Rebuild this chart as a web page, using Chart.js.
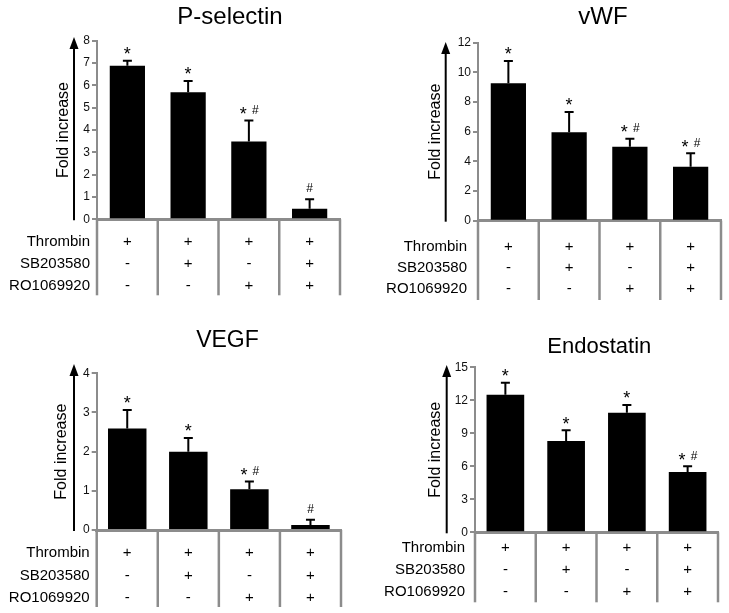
<!DOCTYPE html>
<html><head><meta charset="utf-8">
<script src="https://cdn.jsdelivr.net/npm/chart.js@4/dist/chart.umd.min.js"></script>
<style>
html,body{margin:0;padding:0;background:#fff;width:729px;height:613px;overflow:hidden}
.p{position:absolute}
canvas{display:block}
</style></head><body>
<div class="p" style="left:0;top:0"><canvas id="c0" width="365" height="300"></canvas></div>
<div class="p" style="left:365px;top:0"><canvas id="c1" width="364" height="300"></canvas></div>
<div class="p" style="left:0;top:300px"><canvas id="c2" width="365" height="313"></canvas></div>
<div class="p" style="left:365px;top:300px"><canvas id="c3" width="364" height="313"></canvas></div>
<script>
// ---------- data ----------
const categories = ['Thrombin', 'Thrombin + SB203580', 'Thrombin + RO1069920', 'Thrombin + SB203580 + RO1069920'];
const treatmentRows = ['Thrombin', 'SB203580', 'RO1069920'];
const thrombinSigns = ['+', '+', '+', '+'];
const sb203580Signs = ['-', '+', '-', '+'];
const ro1069920Signs = ['-', '-', '+', '+'];
const yAxisTitle = 'Fold increase';

const pSelectinMean = [6.88, 5.69, 3.48, 0.47];
const pSelectinErr = [0.22, 0.50, 0.94, 0.43];
const pSelectinMarks = ['*', '*', '* #', '#'];

const vwfMean = [9.26, 5.96, 4.99, 3.64];
const vwfErr = [1.51, 1.37, 0.54, 0.90];
const vwfMarks = ['*', '*', '* #', '* #'];

const vegfMean = [2.59, 2.00, 1.04, 0.13];
const vegfErr = [0.47, 0.35, 0.20, 0.13];
const vegfMarks = ['*', '*', '* #', '#'];

const endostatinMean = [12.5, 8.3, 10.86, 5.49];
const endostatinErr = [1.10, 0.98, 0.71, 0.51];
const endostatinMarks = ['*', '*', '*', '* #'];

const yMaxes = [8, 12, 4, 15];
const ySteps = [1, 2, 1, 3];

// ---------- layout / style ----------
const GRAY = '#8c8c8c';
const FONT = '"Liberation Sans", Arial, Helvetica, sans-serif';
const signRows = [thrombinSigns, sb203580Signs, ro1069920Signs];

const panels = [
  { id: 'c0', title: 'P-selectin', mean: pSelectinMean, err: pSelectinErr, marks: pSelectinMarks, yMax: yMaxes[0], step: ySteps[0],
    area: { left: 97, right: 340, top: 40.7, bottom: 219.3 }, titleSize: 24, titleX: 230, titleY: 24,
    yTitlePad: 53.9, arrowDx: -23, arrowTip: 37, rowStart: 22.4, rowStep: 22.2, sepLen: 76, labelGap: 7, barPct: 0.58 },
  { id: 'c1', title: 'vWF', mean: vwfMean, err: vwfErr, marks: vwfMarks, yMax: yMaxes[1], step: ySteps[1],
    area: { left: 113, right: 356, top: 42.7, bottom: 220.7 }, titleSize: 24, titleX: 238, titleY: 24,
    yTitlePad: 61.2, arrowDx: -32.3, arrowTip: 42, rowStart: 26, rowStep: 21.3, sepLen: 80, labelGap: 11, barPct: 0.58 },
  { id: 'c2', title: 'VEGF', mean: vegfMean, err: vegfErr, marks: vegfMarks, yMax: yMaxes[2], step: ySteps[2],
    area: { left: 96.7, right: 341, top: 73.3, bottom: 230 }, titleSize: 23, titleX: 227.5, titleY: 46.7,
    yTitlePad: 52.1, arrowDx: -22.7, arrowTip: 64, rowStart: 23.3, rowStep: 22.2, sepLen: 77, labelGap: 7, barPct: 0.63 },
  { id: 'c3', title: 'Endostatin', mean: endostatinMean, err: endostatinErr, marks: endostatinMarks, yMax: yMaxes[3], step: ySteps[3],
    area: { left: 110, right: 353, top: 67.3, bottom: 232.3 }, titleSize: 22, titleX: 234.3, titleY: 53.3,
    yTitlePad: 61.2, arrowDx: -28.3, arrowTip: 65, rowStart: 15.6, rowStep: 21.8, sepLen: 70, labelGap: 10, barPct: 0.62 }
];

function drawMark(ctx, text, x, cy) {
  // cy: visual centre of the mark
  const parts = text.split(' ');
  ctx.textAlign = 'center';
  ctx.textBaseline = 'alphabetic';
  const draw = (t, px) => {
    if (t === '*') { ctx.font = '18px ' + FONT; ctx.fillText('*', px, cy + 10.3); }
    else { ctx.font = '12px ' + FONT; ctx.fillText('#', px, cy + 4.2); }
  };
  if (parts.length === 1) draw(parts[0], x);
  else { draw(parts[0], x - 5.5); draw(parts[1], x + 6.5); }
}

panels.forEach(cfg => {
  const canvas = document.getElementById(cfg.id);
  const W = canvas.width, H = canvas.height;
  const extras = {
    id: 'extras_' + cfg.id,
    afterDraw(chart) {
      const ctx = chart.ctx, a = chart.chartArea, xs = chart.scales.x, ys = chart.scales.y;
      ctx.save();
      // panel title
      ctx.fillStyle = '#000';
      ctx.font = cfg.titleSize + 'px ' + FONT;
      ctx.textAlign = 'center';
      ctx.textBaseline = 'alphabetic';
      ctx.fillText(cfg.title, cfg.titleX, cfg.titleY);
      // arrow beside y axis
      const ax = a.left + cfg.arrowDx;
      ctx.strokeStyle = '#000';
      ctx.lineWidth = 2;
      ctx.beginPath();
      ctx.moveTo(ax, a.bottom + 1);
      ctx.lineTo(ax, cfg.arrowTip + 8);
      ctx.stroke();
      ctx.beginPath();
      ctx.moveTo(ax, cfg.arrowTip);
      ctx.lineTo(ax - 4.5, cfg.arrowTip + 12);
      ctx.lineTo(ax + 4.5, cfg.arrowTip + 12);
      ctx.closePath();
      ctx.fill();
      // error bars + significance marks
      const meta = chart.getDatasetMeta(0);
      meta.data.forEach((bar, i) => {
        const yTop = ys.getPixelForValue(cfg.mean[i] + cfg.err[i]);
        ctx.strokeStyle = '#000';
        ctx.lineWidth = 2;
        ctx.beginPath();
        ctx.moveTo(bar.x, bar.y);
        ctx.lineTo(bar.x, yTop);
        ctx.moveTo(bar.x - 4.5, yTop);
        ctx.lineTo(bar.x + 4.5, yTop);
        ctx.stroke();
        ctx.fillStyle = '#000';
        drawMark(ctx, cfg.marks[i], bar.x, yTop - 11);
      });
      // treatment table: separators
      const n = categories.length;
      const bounds = [xs.left];
      for (let i = 1; i < n; i++) bounds.push((xs.getPixelForValue(i - 1) + xs.getPixelForValue(i)) / 2);
      bounds.push(xs.right);
      ctx.strokeStyle = GRAY;
      ctx.lineWidth = 2.5;
      bounds.forEach(bx => {
        ctx.beginPath();
        ctx.moveTo(bx, a.bottom);
        ctx.lineTo(bx, a.bottom + cfg.sepLen);
        ctx.stroke();
      });
      // row labels and signs
      ctx.fillStyle = '#000';
      ctx.textBaseline = 'middle';
      treatmentRows.forEach((label, r) => {
        const y = a.bottom + cfg.rowStart + r * cfg.rowStep;
        ctx.font = '15px ' + FONT;
        ctx.textAlign = 'right';
        ctx.fillText(label, a.left - cfg.labelGap, y);
        ctx.textAlign = 'center';
        ctx.font = '15px ' + FONT;
        signRows[r].forEach((s, i) => ctx.fillText(s, xs.getPixelForValue(i), y));
      });
      ctx.restore();
    }
  };

  new Chart(canvas, {
    type: 'bar',
    data: {
      labels: categories,
      datasets: [{
        label: cfg.title,
        data: cfg.mean,
        backgroundColor: '#000',
        borderWidth: 0,
        barPercentage: cfg.barPct,
        categoryPercentage: 1
      }]
    },
    options: {
      responsive: false,
      animation: false,
      devicePixelRatio: 1,
      layout: { padding: { left: 0, right: W - cfg.area.right, top: cfg.area.top, bottom: H - cfg.area.bottom } },
      plugins: { legend: { display: false }, tooltip: { enabled: false }, title: { display: false } },
      scales: {
        x: {
          grid: { display: false },
          border: { display: true, color: GRAY, width: 3 },
          ticks: { display: false },
          afterFit: s => { s.height = 0; }
        },
        y: {
          min: 0, max: cfg.yMax,
          ticks: { stepSize: cfg.step, color: '#111', font: { size: 12, family: FONT }, padding: 2 },
          grid: { drawOnChartArea: false, drawTicks: true, tickLength: 5, color: GRAY, lineWidth: 2 },
          border: { display: true, color: GRAY, width: 2 },
          title: { display: true, text: yAxisTitle, color: '#000', font: { size: 16, family: FONT }, padding: { top: cfg.yTitlePad, bottom: 0 } },
          afterFit: s => { s.width = cfg.area.left; }
        }
      }
    },
    plugins: [extras]
  });
});
</script>
</body></html>
